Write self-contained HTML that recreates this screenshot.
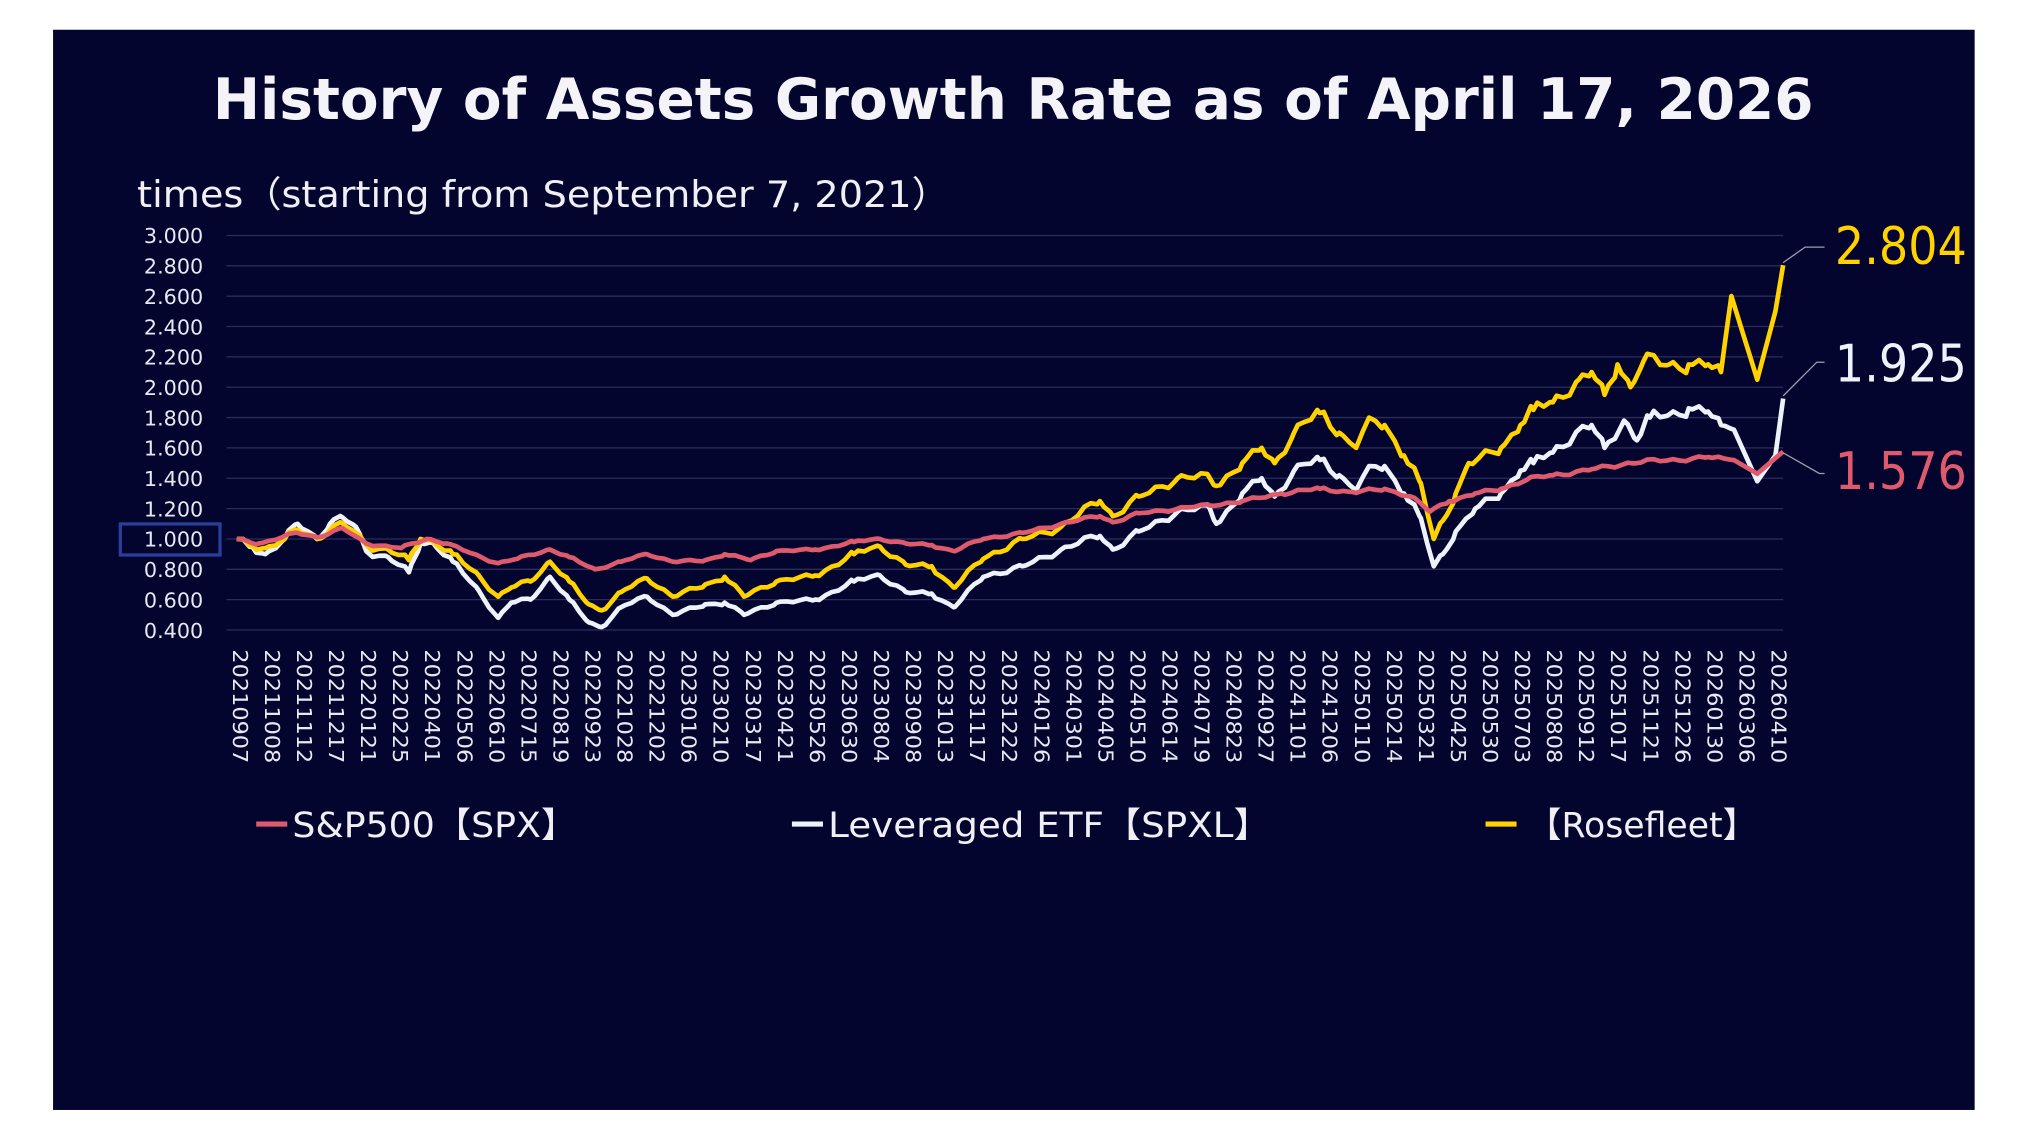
<!DOCTYPE html>
<html><head><meta charset="utf-8"><style>
html,body{margin:0;padding:0;background:#fff;width:2029px;height:1141px;overflow:hidden}
svg{display:block}
text{font-family:"DejaVu Sans","Liberation Sans",sans-serif}
</style></head><body>
<svg id="s" width="2029" height="1141" viewBox="0 0 1568 882" preserveAspectRatio="none" xmlns="http://www.w3.org/2000/svg">
<rect x="0" y="0" width="1568" height="882" fill="#fff"/>
<rect x="41" y="23" width="1485" height="835" fill="#03052e"/>
<text x="783" y="92" fill="#f4f4f8" font-size="44" font-weight="bold" text-anchor="middle" textLength="1237" lengthAdjust="spacingAndGlyphs">History of Assets Growth Rate as of April 17, 2026</text>
<text x="106" y="160" fill="#f0f0f4" font-size="28" textLength="628" lengthAdjust="spacingAndGlyphs">times（starting from September 7, 2021）</text>
<g id="grid"></g>
<rect x="93" y="405" width="77" height="24" fill="none" stroke="#2a3f9a" stroke-width="2.5"/>
<g id="lines"></g>
<g id="xl"></g>
<polyline points="1378,203 1395,191 1410,191" fill="none" stroke="#9aa0b0" stroke-width="1"/>
<polyline points="1378,306 1404,280 1410,280" fill="none" stroke="#9aa0b0" stroke-width="1"/>
<polyline points="1378,350 1406,366 1410,366" fill="none" stroke="#9aa0b0" stroke-width="1"/>
<text x="1418" y="204" fill="#ffd200" font-size="40" textLength="102" lengthAdjust="spacingAndGlyphs">2.804</text>
<text x="1418" y="295" fill="#eef2fa" font-size="40" textLength="102" lengthAdjust="spacingAndGlyphs">1.925</text>
<text x="1418" y="378" fill="#e05a6e" font-size="40" textLength="102" lengthAdjust="spacingAndGlyphs">1.576</text>
<line x1="198" y1="637" x2="222" y2="637" stroke="#e05a6e" stroke-width="4"/>
<text x="226" y="647" fill="#f0f0f4" font-size="27" textLength="220" lengthAdjust="spacingAndGlyphs">S&amp;P500【SPX】</text>
<line x1="612" y1="637" x2="636" y2="637" stroke="#eef2fa" stroke-width="4"/>
<text x="640" y="647" fill="#f0f0f4" font-size="27" textLength="342" lengthAdjust="spacingAndGlyphs">Leveraged ETF【SPXL】</text>
<line x1="1148" y1="637" x2="1172" y2="637" stroke="#ffd200" stroke-width="4"/>
<text x="1180" y="647" fill="#f0f0f4" font-size="27" textLength="178" lengthAdjust="spacingAndGlyphs">【Rosefleet】</text>
</svg>
<script>
var NS="http://www.w3.org/2000/svg";
function el(t,a,p){var e=document.createElementNS(NS,t);for(var k in a)e.setAttribute(k,a[k]);p.appendChild(e);return e;}
function Y(v){return 487-(v-0.4)/0.2*23.46;}
var g=document.getElementById("grid");
for(var i=0;i<=13;i++){var v=0.4+i*0.2,y=Y(v);
el("line",{x1:175,x2:1378,y1:y,y2:y,stroke:"#2a2d5a","stroke-width":1},g);
var t=el("text",{x:157,y:y+6,fill:"#e8e8f0","font-size":16,"text-anchor":"end"},g);t.textContent=v.toFixed(3);}
var labs="20210907 20211008 20211112 20211217 20220121 20220225 20220401 20220506 20220610 20220715 20220819 20220923 20221028 20221202 20230106 20230210 20230317 20230421 20230526 20230630 20230804 20230908 20231013 20231117 20231222 20240126 20240301 20240405 20240510 20240614 20240719 20240823 20240927 20241101 20241206 20250110 20250214 20250321 20250425 20250530 20250703 20250808 20250912 20251017 20251121 20251226 20260130 20260306 20260410".split(" ");
var xl=document.getElementById("xl");
for(var i=0;i<labs.length;i++){var x=186+i*(1375-186)/(labs.length-1);
var t=el("text",{x:0,y:0,fill:"#e8e8f0","font-size":16,textLength:88,lengthAdjust:"spacingAndGlyphs",transform:"translate("+(x-6)+",502) rotate(90)"},xl);t.textContent=labs[i];}
function parse(s){return s.trim().split(/,\s*/).map(function(p){var a=p.split(":");return [+a[0],+a[1]];});}
var red=parse("183:1.0, 200:0.97, 230:1.04, 245:1.01, 265:1.07, 283:0.97, 310:0.94, 330:1.0, 345:0.97, 360:0.92, 385:0.84, 400:0.87, 425:0.93, 440:0.88, 460:0.80, 480:0.85, 500:0.9, 520:0.85, 545:0.86, 560:0.9, 580:0.86, 600:0.92, 630:0.93, 660:0.98, 680:1.0, 700:0.97, 720:0.96, 737:0.92, 760:1.0, 790:1.04, 820:1.1, 850:1.15, 860:1.11, 880:1.17, 910:1.2, 935:1.22, 960:1.25, 990:1.3, 1020:1.33, 1045:1.31, 1070:1.33, 1090:1.28, 1105:1.18, 1120:1.25, 1140:1.3, 1160:1.33, 1180:1.39, 1200:1.42, 1230:1.46, 1260:1.5, 1290:1.52, 1320:1.54, 1340:1.52, 1358:1.43, 1378:1.576");
var wh=parse("183:1.0, 195:0.95, 205:0.9, 220:1.0, 230:1.1, 245:1.0, 255:1.1, 265:1.14, 275:1.08, 283:0.92, 300:0.88, 316:0.78, 325:0.97, 335:0.97, 350:0.85, 370:0.66, 385:0.48, 395:0.58, 410:0.6, 425:0.75, 440:0.6, 455:0.45, 465:0.42, 480:0.55, 500:0.62, 520:0.5, 545:0.57, 560:0.58, 575:0.5, 600:0.58, 630:0.6, 660:0.72, 680:0.76, 700:0.65, 720:0.64, 737:0.55, 760:0.75, 790:0.82, 820:0.93, 850:1.02, 860:0.93, 880:1.05, 910:1.18, 935:1.2, 940:1.1, 960:1.3, 975:1.4, 985:1.28, 1000:1.45, 1020:1.52, 1035:1.42, 1048:1.32, 1058:1.48, 1070:1.48, 1085:1.3, 1097:1.15, 1108:0.82, 1115:0.9, 1125:1.05, 1140:1.2, 1160:1.3, 1175:1.45, 1185:1.5, 1200:1.57, 1220:1.72, 1230:1.75, 1240:1.6, 1255:1.78, 1265:1.65, 1275:1.8, 1290:1.82, 1305:1.86, 1320:1.84, 1330:1.75, 1340:1.72, 1358:1.38, 1372:1.55, 1378:1.925");
var ye=parse("183:1.0, 195:0.96, 205:0.94, 220:1.0, 230:1.06, 245:1.0, 255:1.06, 265:1.1, 275:1.04, 283:0.96, 300:0.93, 316:0.86, 325:1.0, 335:0.98, 350:0.9, 370:0.76, 385:0.62, 395:0.68, 410:0.72, 425:0.85, 440:0.72, 455:0.57, 465:0.53, 480:0.65, 500:0.74, 520:0.62, 545:0.7, 560:0.75, 575:0.62, 600:0.72, 630:0.76, 660:0.9, 680:0.95, 700:0.83, 720:0.82, 737:0.68, 760:0.87, 790:1.0, 820:1.08, 850:1.25, 860:1.15, 880:1.28, 910:1.4, 935:1.4, 940:1.35, 960:1.5, 975:1.6, 985:1.5, 1000:1.7, 1020:1.83, 1035:1.7, 1048:1.6, 1058:1.8, 1070:1.75, 1085:1.55, 1097:1.38, 1108:1.0, 1115:1.12, 1125:1.3, 1135:1.5, 1160:1.6, 1175:1.75, 1185:1.85, 1200:1.9, 1220:2.05, 1230:2.1, 1240:1.95, 1250:2.15, 1260:2.0, 1270:2.17, 1290:2.15, 1305:2.15, 1320:2.15, 1330:2.1, 1338:2.6, 1358:2.05, 1372:2.5, 1378:2.804");
function interp(k,x){for(var i=0;i<k.length-1;i++){if(x<=k[i+1][0]){var f=(x-k[i][0])/(k[i+1][0]-k[i][0]);return k[i][1]+f*(k[i+1][1]-k[i][1]);}}return k[k.length-1][1];}
function noise(x){return Math.sin(x*0.91)*0.5+Math.sin(x*2.37+1)*0.35+Math.sin(x*5.1)*0.15;}
function build(k,amp,col){var pts=[];var xs={};k.forEach(function(p){xs[p[0]]=1;});
for(var x=183;x<=1378;x+=5)xs[x]=1;var arr=Object.keys(xs).map(Number).sort(function(a,b){return a-b;});
arr.forEach(function(x){var v=interp(k,x);var isK=k.some(function(p){return p[0]==x;});if(!isK&&x<1336)v+=noise(x)*amp*v;pts.push(x.toFixed(1)+","+Y(v).toFixed(1));});
el("polyline",{points:pts.join(" "),fill:"none",stroke:col,"stroke-width":3.6,"stroke-linejoin":"round"},document.getElementById("lines"));}
build(wh,0.03,"#eef2fa");build(ye,0.03,"#ffd200");build(red,0.012,"#e05a6e");
</script>
</body></html>
